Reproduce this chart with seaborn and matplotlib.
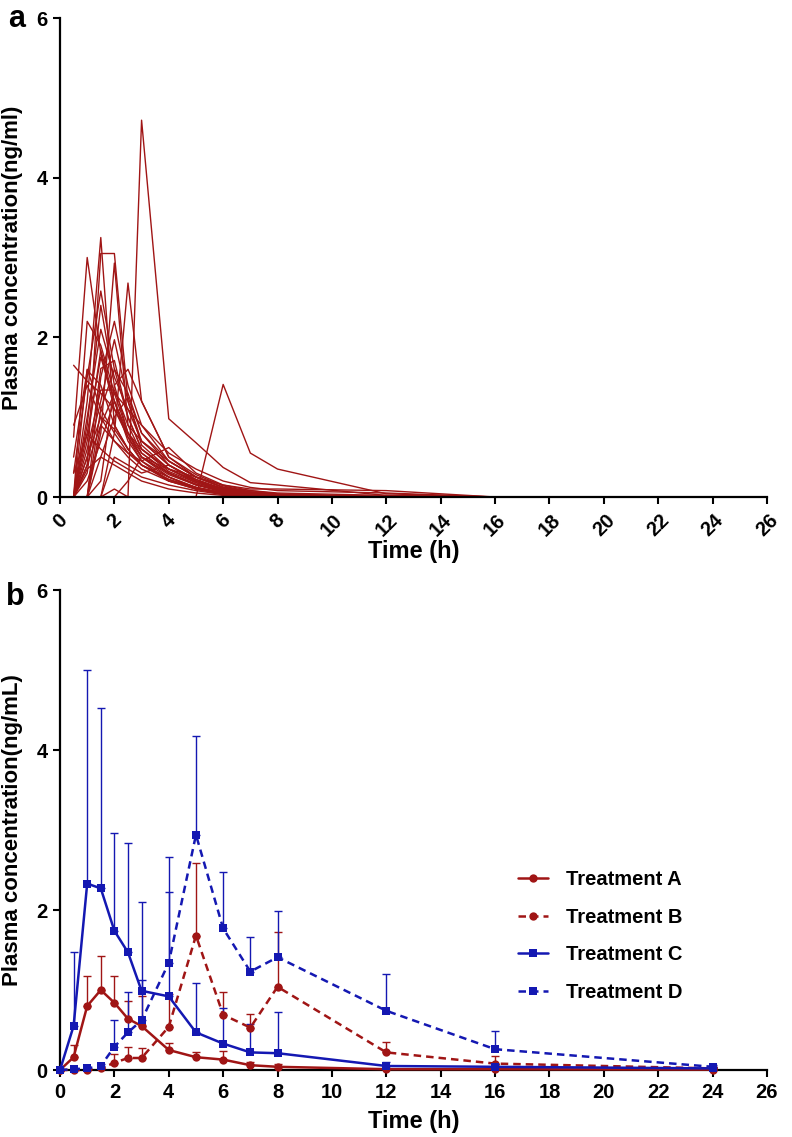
import numpy as np
import pandas as pd
import matplotlib
matplotlib.use("Agg")
import matplotlib.pyplot as plt
import seaborn as sns

# ---------------- data ----------------
# Panel a: individual subject profiles (ng/ml), sampled at these times (h)
times_a = [0.5, 1, 1.5, 2, 2.5, 3, 4, 5, 6, 7, 8, 12, 16, 24]
s01 = [0, 0, 0, 0.10, 0.00, 4.72, 0.98, 0.68, 0.37, 0.18, 0.15, 0.02, 0, 0]
s02 = [0, 0, 0, 0, 0, 0, 0, 0, 1.41, 0.55, 0.35, 0.04, 0, 0]
s03 = [0.75, 3.00, 1.80, 1.10, 0.75, 0.50, 0.30, 0.15, 0.08, 0.04, 0.02, 0, 0, 0]
s04 = [0, 1.20, 3.25, 0.90, 0.60, 0.40, 0.22, 0.12, 0.05, 0.02, 0, 0, 0, 0]
s05 = [0, 0.40, 3.05, 3.05, 1.20, 0.65, 0.35, 0.18, 0.08, 0.04, 0.02, 0, 0, 0]
s06 = [0, 0, 0.80, 2.93, 0.90, 0.55, 0.30, 0.16, 0.07, 0.03, 0, 0, 0, 0]
s07 = [0, 0, 0, 0.80, 2.68, 1.20, 0.50, 0.28, 0.14, 0.06, 0.03, 0, 0, 0]
s08 = [0.30, 1.50, 2.58, 1.60, 1.00, 0.60, 0.32, 0.18, 0.08, 0.04, 0.02, 0, 0, 0]
s09 = [0, 0.90, 2.40, 1.40, 0.80, 0.50, 0.28, 0.15, 0.06, 0.03, 0, 0, 0, 0]
s10 = [0, 0.50, 1.20, 1.97, 1.20, 0.70, 0.40, 0.22, 0.10, 0.05, 0.02, 0, 0, 0]
s11 = [1.65, 1.45, 1.30, 1.10, 0.80, 0.55, 0.30, 0.16, 0.07, 0.03, 0, 0, 0, 0]
s12 = [0, 0.70, 1.84, 1.20, 0.70, 0.45, 0.25, 0.12, 0.05, 0.02, 0, 0, 0, 0]
s13 = [0.50, 1.59, 1.40, 0.90, 0.60, 0.40, 0.22, 0.10, 0.04, 0, 0, 0, 0, 0]
s14 = [0, 0.30, 1.61, 1.71, 1.00, 0.60, 0.35, 0.20, 0.10, 0.06, 0.03, 0, 0, 0]
s15 = [0, 0.60, 1.34, 1.34, 0.90, 0.70, 0.45, 0.25, 0.12, 0.06, 0.03, 0, 0, 0]
s16 = [0, 0, 0.50, 1.00, 1.25, 0.80, 0.40, 0.22, 0.10, 0.05, 0.02, 0, 0, 0]
s17 = [0.30, 0.79, 0.60, 0.45, 0.35, 0.25, 0.15, 0.08, 0.03, 0, 0, 0, 0, 0]
s18 = [0, 0.40, 0.90, 0.70, 0.55, 0.45, 0.62, 0.30, 0.15, 0.08, 0.04, 0, 0, 0]
s19 = [0, 0, 0, 0, 0.20, 0.50, 0.35, 0.25, 0.15, 0.10, 0.10, 0.08, 0, 0]
s20 = [0.90, 1.40, 1.00, 0.70, 0.50, 0.35, 0.20, 0.12, 0.05, 0.02, 0, 0, 0, 0]
s21 = [0, 2.20, 1.90, 1.30, 0.80, 0.50, 0.25, 0.12, 0.05, 0, 0, 0, 0, 0]
s22 = [0, 1.00, 2.10, 1.50, 1.10, 0.70, 0.40, 0.20, 0.10, 0.05, 0.02, 0, 0, 0]
s23 = [0, 0, 0.20, 1.40, 1.60, 1.20, 0.50, 0.25, 0.12, 0.06, 0.03, 0, 0, 0]
s24 = [0, 0.35, 0.50, 0.40, 0.30, 0.20, 0.10, 0.05, 0.02, 0, 0, 0, 0, 0]
s25 = [0, 1.60, 1.10, 0.80, 0.55, 0.40, 0.20, 0.10, 0.04, 0, 0, 0, 0, 0]
s26 = [0, 0, 1.50, 2.20, 1.40, 0.90, 0.45, 0.25, 0.12, 0.06, 0.03, 0.01, 0, 0]
s27 = [0, 0.20, 0.70, 1.20, 0.80, 0.60, 0.35, 0.20, 0.08, 0.03, 0, 0, 0, 0]
s28 = [0, 0, 0.90, 1.30, 1.10, 0.90, 0.55, 0.35, 0.20, 0.12, 0.08, 0.05, 0, 0]
s29 = [0, 0.50, 1.00, 0.85, 0.60, 0.40, 0.25, 0.10, 0.05, 0, 0, 0, 0, 0]
s30 = [0, 0, 0, 0.50, 0.40, 0.30, 0.40, 0.20, 0.10, 0.05, 0.02, 0, 0, 0]
s31 = [0, 0.80, 1.75, 1.20, 0.75, 0.45, 0.20, 0.10, 0.03, 0, 0, 0, 0, 0]
s32 = [0, 0, 1.10, 1.60, 1.30, 0.80, 0.45, 0.25, 0.12, 0.08, 0.05, 0.02, 0, 0]
subjects = [s01, s02, s03, s04, s05, s06, s07, s08, s09, s10, s11, s12, s13, s14, s15, s16,
            s17, s18, s19, s20, s21, s22, s23, s24, s25, s26, s27, s28, s29, s30, s31, s32]

# Panel b: mean and SD per treatment (ng/mL)
times_b = [0, 0.5, 1, 1.5, 2, 2.5, 3, 4, 5, 6, 7, 8, 12, 16, 24]
treatments = ["Treatment A", "Treatment B", "Treatment C", "Treatment D"]
mean_a = [0, 0.16, 0.80, 1.00, 0.84, 0.64, 0.55, 0.25, 0.16, 0.13, 0.06, 0.04, 0.01, 0.01, 0.005]
sd_a   = [0, 0.15, 0.37, 0.43, 0.33, 0.22, 0.37, 0.09, 0.06, 0.11, 0.04, 0.03, 0.01, 0.01, 0.005]
mean_b = [0, 0, 0, 0.02, 0.09, 0.15, 0.15, 0.54, 1.68, 0.69, 0.53, 1.04, 0.22, 0.08, 0.02]
sd_b   = [0, 0, 0, 0.02, 0.11, 0.14, 0.12, 0.41, 0.91, 0.29, 0.17, 0.68, 0.13, 0.10, 0.02]
mean_c = [0, 0.55, 2.33, 2.27, 1.74, 1.47, 0.99, 0.92, 0.47, 0.33, 0.22, 0.21, 0.05, 0.04, 0.02]
sd_c   = [0, 0.93, 2.67, 2.26, 1.22, 1.37, 1.11, 1.74, 0.62, 0.44, 0.36, 0.52, 0.05, 0.04, 0.02]
mean_d = [0, 0.01, 0.02, 0.05, 0.29, 0.47, 0.62, 1.34, 2.94, 1.77, 1.23, 1.41, 0.74, 0.26, 0.04]
sd_d   = [0, 0.01, 0.01, 0.03, 0.33, 0.51, 0.51, 0.89, 1.24, 0.71, 0.43, 0.58, 0.46, 0.23, 0.02]

x_ticks = list(range(0, 27, 2))
y_ticks = [0, 2, 4, 6]

# ---------------- style ----------------
sns.set_style("ticks")
plt.rcParams["font.family"] = ["Liberation Sans", "DejaVu Sans"]
plt.rcParams["font.weight"] = "bold"
plt.rcParams["text.color"] = "black"
plt.rcParams["axes.labelcolor"] = "black"
plt.rcParams["xtick.color"] = "black"
plt.rcParams["ytick.color"] = "black"

RED = "#a01515"
BLUE = "#1418b2"

fig = plt.figure(figsize=(7.92, 11.37), dpi=100)
W, H = 792, 1137
def ax_rect(left, right, top, bottom):
    return [left / W, 1 - bottom / H, (right - left) / W, (bottom - top) / H]

ax_a = fig.add_axes(ax_rect(60, 767, 18, 497))
ax_b = fig.add_axes(ax_rect(60, 767, 590, 1070))

# ---------------- panel a ----------------
rows = []
for i, vals in enumerate(subjects):
    for t, v in zip(times_a, vals):
        rows.append({"subject": i, "time": t, "conc": v})
df_a = pd.DataFrame(rows)
sns.lineplot(data=df_a, x="time", y="conc", units="subject", estimator=None,
             color=RED, linewidth=1.0, legend=False, ax=ax_a, clip_on=False)

# ---------------- panel b ----------------
means = [mean_a, mean_b, mean_c, mean_d]
sds = [sd_a, sd_b, sd_c, sd_d]
colors = [RED, RED, BLUE, BLUE]
rows = []
for name, m in zip(treatments, means):
    for t, v in zip(times_b, m):
        rows.append({"treatment": name, "time": t, "conc": v})
df_b = pd.DataFrame(rows)

for name, m, s, c in zip(treatments, means, sds, colors):
    ax_b.errorbar(times_b, m, yerr=[np.zeros(len(s)), s], fmt="none", ecolor=c,
                  elinewidth=1.0, capsize=3, capthick=1.0, zorder=1, clip_on=False)

palette = dict(zip(treatments, colors))
dash_map = {"Treatment A": "", "Treatment B": (3.0, 2.0),
            "Treatment C": "", "Treatment D": (3.0, 2.0)}
marker_map = {"Treatment A": "o", "Treatment B": "o",
              "Treatment C": "s", "Treatment D": "s"}
sns.lineplot(data=df_b, x="time", y="conc", hue="treatment", style="treatment",
             palette=palette, dashes=dash_map, markers=marker_map, markersize=6,
             markeredgewidth=0, linewidth=1.8, errorbar=None, ax=ax_b,
             clip_on=False, zorder=3)

handles, labels = ax_b.get_legend_handles_labels()
ax_b.legend(handles, labels, frameon=False, loc="upper left",
            bbox_to_anchor=(518 / W, 1 - 870 / H), bbox_transform=fig.transFigure,
            borderpad=0, borderaxespad=0, handlelength=1.5, handletextpad=0.9,
            labelspacing=0.93, prop={"weight": "bold", "size": 14.5})

# ---------------- axes styling ----------------
for ax in (ax_a, ax_b):
    ax.set_xlim(0, 26)
    ax.set_ylim(0, 6)
    ax.set_xticks(x_ticks)
    ax.set_yticks(y_ticks)
    sns.despine(ax=ax)
    for sp in ("left", "bottom"):
        ax.spines[sp].set_linewidth(1.6)
        ax.spines[sp].set_color("black")
    ax.tick_params(direction="out", length=5, width=1.5, labelsize=14.5,
                   colors="black", pad=4)
    for lab in ax.get_xticklabels() + ax.get_yticklabels():
        lab.set_fontweight("bold")
    ax.set_xlabel("Time (h)", fontsize=17, fontweight="bold", labelpad=6)

ax_a.set_ylabel("Plasma concentration(ng/ml)", fontsize=16, fontweight="bold")
ax_b.set_ylabel("Plasma concentration(ng/mL)", fontsize=16, fontweight="bold")
ax_a.yaxis.set_label_coords(-0.052, 0.5)
ax_b.yaxis.set_label_coords(-0.052, 0.5)

for lab in ax_a.get_xticklabels():
    lab.set_rotation(45)
    lab.set_ha("center")
ax_a.tick_params(axis="x", pad=5)
ax_a.xaxis.labelpad = 0

fig.text(8 / W, 1 - 27 / H, "a", fontsize=22, fontweight="bold")
fig.text(6 / W, 1 - 605 / H, "b", fontsize=22, fontweight="bold")

fig.savefig("out.png", dpi=100)
